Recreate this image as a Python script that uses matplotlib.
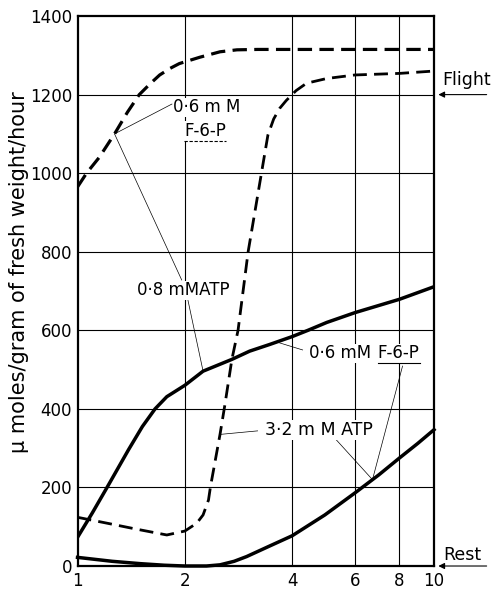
import numpy as np
import matplotlib.pyplot as plt
from matplotlib.lines import Line2D
from matplotlib.transforms import IdentityTransform

plt.rcParams["font.family"] = ["DejaVu Sans"]

# values (x on a log axis, y in umoles/g fresh weight/h)
top_dash_x = [1.0, 1.06, 1.15, 1.27, 1.38, 1.49, 1.6, 1.7, 1.82, 1.93, 2.2, 2.51, 2.8, 3.2, 4.0, 6.0, 10.0]
top_dash_y = [965, 1000, 1040, 1100, 1155, 1200, 1228, 1250, 1267, 1279, 1295, 1309, 1314, 1315, 1315, 1315, 1315]

atp_dash_x = [1.0, 1.21, 1.46, 1.78, 2.0, 2.16, 2.25, 2.33, 2.36, 2.43, 2.51, 2.59, 2.71, 2.82, 3.01, 3.28, 3.42,
              3.55, 3.69, 3.85, 4.1, 4.39, 5.0, 6.0, 8.0, 10.0]
atp_dash_y = [124, 109, 94, 79, 89, 109, 130, 168, 202, 265, 335, 410, 526, 600, 800, 1000, 1097,
              1138, 1165, 1185, 1210, 1229, 1241, 1250, 1254, 1260]

f6p_solid_x = [1.0, 1.1, 1.21, 1.39, 1.52, 1.65, 1.78, 2.0, 2.25, 2.71, 3.04, 3.46, 4.0, 4.43, 5.0, 6.0, 8.0, 10.0]
f6p_solid_y = [73, 135, 200, 296, 355, 400, 431, 460, 496, 526, 547, 564, 584, 600, 620, 645, 679, 711]

atp_solid_x = [1.0, 1.25, 1.5, 1.75, 2.0, 2.3, 2.51, 2.75, 2.98, 3.46, 4.0, 4.94, 6.0, 7.0, 8.0, 9.0, 10.0]
atp_solid_y = [22, 12, 6, 2, 0, 0, 3, 12, 24, 51, 77, 130, 186, 232, 275, 312, 347]

x_ticks = [1, 2, 4, 6, 8, 10]
y_ticks = [0, 200, 400, 600, 800, 1000, 1200, 1400]


def on_curve(xs, ys, x):
    return x, float(np.interp(np.log10(x), np.log10(xs), ys))


fig = plt.figure(figsize=(4.97, 5.92), dpi=100)
ax = fig.add_axes([0.156, 0.0439, 0.7173, 0.929])
ax.set_xscale("log")
ax.set_xlim(1, 10)
ax.set_ylim(0, 1400)

for xv in [2, 4, 6, 8]:
    ax.axvline(xv, color="black", lw=0.8, zorder=1)
for yv in y_ticks[1:-1]:
    ax.axhline(yv, color="black", lw=0.8, zorder=1)

ax.plot(top_dash_x, top_dash_y, color="black", lw=2.3, dashes=(4.5, 2.3), zorder=3)
ax.plot(atp_dash_x, atp_dash_y, color="black", lw=2.0, dashes=(5.0, 2.6), zorder=3)
ax.plot(f6p_solid_x, f6p_solid_y, color="black", lw=2.5, zorder=3)
ax.plot(atp_solid_x, atp_solid_y, color="black", lw=2.5, zorder=3, clip_on=False)

ax.set_xticks(x_ticks)
ax.set_xticklabels([str(v) for v in x_ticks])
ax.xaxis.set_minor_locator(plt.NullLocator())
ax.set_yticks(y_ticks)
ax.tick_params(length=0, labelsize=12, pad=4)
for s in ax.spines.values():
    s.set_linewidth(1.6)
ax.set_ylabel("\u03bc moles/gram of fresh weight/hour", fontsize=15)
ax.yaxis.set_label_coords(-0.137, 0.535)

box = dict(facecolor="white", edgecolor="none", pad=0.5)
tk = dict(fontsize=12, va="center", zorder=4, bbox=box)
ax.text(2.31, 1168, "0\u00b76 m M", ha="center", **tk)
up_f6p = ax.text(2.28, 1107, "F-6-P", ha="center", **tk)
ax.text(1.98, 702, "0\u00b78 mMATP", ha="center", **tk)
ax.text(6.68, 541, "0\u00b76 mM", ha="right", **tk)
lo_f6p = ax.text(6.95, 541, "F-6-P", ha="left", **tk)
ax.text(4.75, 346, "3\u00b72 m M ATP", ha="center", fontsize=12.5, va="center", zorder=4, bbox=box)

thin = dict(color="black", lw=0.5, zorder=2)


def leader(p0, p1):
    ax.plot([p0[0], p1[0]], [p0[1], p1[1]], **thin)


p_top = on_curve(top_dash_x, top_dash_y, 1.27)
leader((1.84, 1176), p_top)
leader(p_top, (1.96, 728))
leader((2.04, 677), on_curve(f6p_solid_x, f6p_solid_y, 2.25))
leader((4.28, 550), on_curve(f6p_solid_x, f6p_solid_y, 3.62))
p_low = on_curve(atp_solid_x, atp_solid_y, 6.72)
leader((8.16, 509), p_low)
leader((5.26, 326), p_low)
leader((3.2, 344), on_curve(atp_dash_x, atp_dash_y, 2.51))

# side markers
ax.text(12.3, 1237, "Flight", fontsize=12.5, ha="center", va="center")
ax.text(12.0, 28, "Rest", fontsize=12.5, ha="center", va="center")
arrow = dict(arrowstyle="-|>", color="black", lw=0.8, mutation_scale=9)
ax.annotate("", xy=(10.1, 1200), xytext=(14.3, 1200), arrowprops=arrow, annotation_clip=False)
ax.annotate("", xy=(10.1, 0), xytext=(14.3, 0), arrowprops=arrow, annotation_clip=False)

# underline the F-6-P labels
fig.canvas.draw()
for t, style in [(up_f6p, (0, (3, 1.5))), (lo_f6p, "-")]:
    bb = t.get_window_extent()
    fig.add_artist(Line2D([bb.x0, bb.x1], [bb.y0 - 1, bb.y0 - 1], transform=IdentityTransform(),
                          color="black", lw=0.8, linestyle=style))

fig.savefig("out.png", dpi=100)
